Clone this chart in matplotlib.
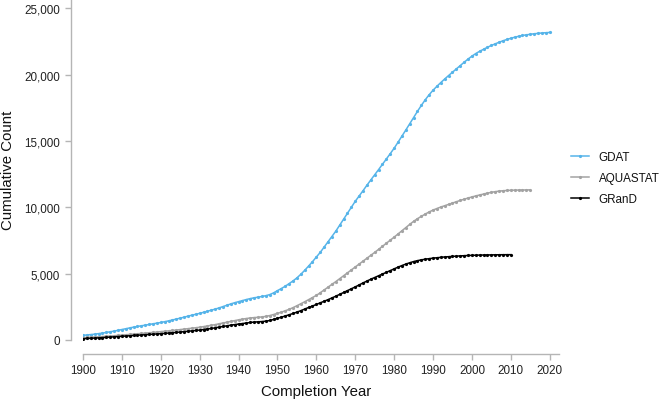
import matplotlib
matplotlib.use("Agg")
import matplotlib.pyplot as plt
from matplotlib.ticker import FuncFormatter, MultipleLocator

plt.rcParams['font.family'] = ['Liberation Sans', 'DejaVu Sans']

gdat_years = list(range(1900, 2021))
gdat = [350, 380, 410, 440, 480, 520, 570, 620, 670, 730,
        790, 850, 910, 970, 1020, 1070, 1120, 1170, 1220, 1270,
        1320, 1380, 1440, 1510, 1580, 1650, 1720, 1800, 1870, 1940,
        2010, 2090, 2170, 2250, 2330, 2420, 2520, 2620, 2720, 2810,
        2890, 2970, 3050, 3120, 3180, 3230, 3280, 3340, 3420, 3550,
        3720, 3880, 4050, 4250, 4450, 4680, 4950, 5250, 5570, 5900,
        6250, 6600, 7000, 7400, 7800, 8200, 8650, 9100, 9550, 10000,
        10450, 10850, 11250, 11660, 12060, 12450, 12840, 13240, 13640, 14040,
        14450, 14900, 15360, 15820, 16290, 16760, 17230, 17680, 18100, 18480,
        18820, 19120, 19400, 19670, 19930, 20180, 20430, 20680, 20930, 21170,
        21390, 21590, 21760, 21910, 22060, 22200, 22320, 22440, 22550, 22650,
        22740, 22820, 22890, 22950, 23000, 23040, 23080, 23110, 23140, 23160,
        23180]

aquastat_years = list(range(1900, 2016))
aquastat = [180, 195, 210, 225, 240, 260, 280, 300, 320, 345,
            370, 395, 420, 445, 470, 495, 520, 545, 570, 600,
            630, 660, 690, 720, 750, 785, 820, 855, 890, 925,
            960, 1010, 1060, 1110, 1160, 1220, 1280, 1340, 1400, 1460,
            1520, 1570, 1620, 1660, 1690, 1710, 1740, 1780, 1840, 1920,
            2010, 2100, 2200, 2310, 2440, 2580, 2730, 2880, 3040, 3200,
            3360, 3560, 3770, 3980, 4190, 4400, 4620, 4840, 5060, 5280,
            5500, 5720, 5940, 6160, 6380, 6600, 6830, 7060, 7290, 7520,
            7750, 7990, 8230, 8470, 8710, 8940, 9140, 9320, 9490, 9650,
            9790, 9910, 10020, 10120, 10220, 10320, 10420, 10520, 10610, 10700,
            10780, 10860, 10930, 11000, 11070, 11130, 11180, 11220, 11250, 11270,
            11285, 11295, 11300, 11305, 11310, 11315]

grand_years = list(range(1900, 2011))
grand = [100, 115, 130, 145, 160, 180, 200, 220, 240, 260,
         280, 300, 320, 340, 360, 380, 400, 420, 440, 458,
         475, 500, 525, 550, 575, 600, 630, 660, 690, 720,
         750, 790, 830, 870, 920, 970, 1020, 1070, 1120, 1160,
         1200, 1240, 1280, 1320, 1350, 1370, 1390, 1420, 1470, 1550,
         1640, 1720, 1810, 1900, 2000, 2100, 2210, 2330, 2450, 2560,
         2680, 2800, 2920, 3040, 3170, 3300, 3440, 3580, 3720, 3860,
         4000, 4150, 4300, 4440, 4580, 4710, 4840, 4970, 5100, 5230,
         5360, 5490, 5610, 5720, 5820, 5910, 5980, 6040, 6090, 6130,
         6170, 6200, 6230, 6260, 6280, 6300, 6320, 6340, 6355, 6370,
         6380, 6390, 6400, 6405, 6410, 6415, 6420, 6425, 6428, 6430,
         6432]

series_names = ["GDAT", "AQUASTAT", "GRanD"]
series_colors = ["#56B4E9", "#A3A3A3", "#000000"]

W, H = 663, 402
fig = plt.figure(figsize=(W / 100, H / 100), dpi=100)
ax = fig.add_axes([83 / W, (H - 341) / H, (559 - 83) / W, 341 / H])

for yrs, vals, name, col in zip([gdat_years, aquastat_years, grand_years],
                                [gdat, aquastat, grand], series_names, series_colors):
    ax.plot(yrs, vals, color=col, lw=1.1, marker='o', ms=2.3, mew=0, label=name)

ax.set_xlim(1900, 2022.4)
ax.set_ylim(0, 25700)
ax.xaxis.set_major_locator(MultipleLocator(10))
ax.yaxis.set_major_locator(MultipleLocator(5000))
ax.yaxis.set_major_formatter(FuncFormatter(lambda v, p: f"{int(v):,}"))

axis_col = "#b5b5b5"
for s in ["top", "right"]:
    ax.spines[s].set_visible(False)
ax.spines["left"].set_position(("outward", 9))
ax.spines["bottom"].set_position(("outward", 10))
for s in ["left", "bottom"]:
    ax.spines[s].set_color(axis_col)
    ax.spines[s].set_linewidth(1.0)
ax.tick_params(axis="both", colors=axis_col, length=4.5, width=1.0,
               labelcolor="#222222", labelsize=8.4, pad=3)

ax.set_xlabel("Completion Year", fontsize=10.8, color="#111111")
ax.xaxis.set_label_coords((316.5 - 83) / (559 - 83), -(385 - 341) / 341)
ax.set_ylabel("Cumulative Count", fontsize=10.8, color="#111111")
ax.yaxis.set_label_coords(-(83 - 15) / (559 - 83), 0.5)

leg = fig.legend(loc="upper left", bbox_to_anchor=(566 / W, 1 - 147 / H),
                 frameon=False, fontsize=8.4, handlelength=1.6,
                 labelspacing=0.8, handletextpad=0.8, borderaxespad=0)
for t in leg.get_texts():
    t.set_color("#111111")

fig.savefig("out.png", dpi=100)
